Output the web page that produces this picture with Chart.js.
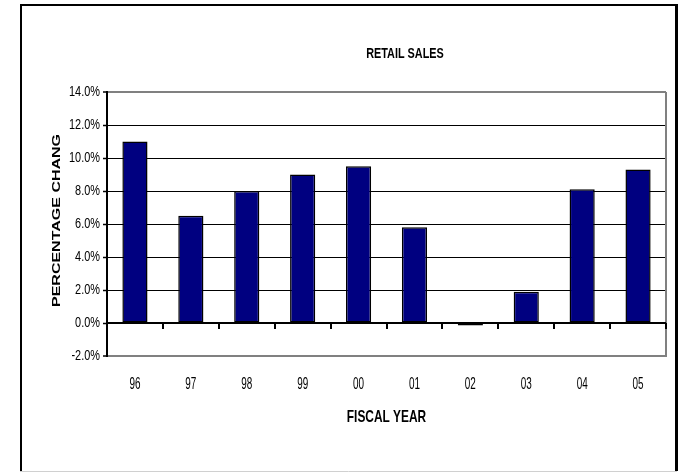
<!DOCTYPE html>
<html>
<head>
<meta charset="utf-8">
<script src="https://cdn.jsdelivr.net/npm/chart.js@4.4.1/dist/chart.umd.min.js"></script>
<style>
html,body{margin:0;padding:0;background:#fff;}
#wrap{width:679px;height:472px;position:relative;}
</style>
</head>
<body>
<div id="wrap"><canvas id="c" width="679" height="472"></canvas></div>
<script>
const chartTitle = 'RETAIL SALES';
const xTitle = 'FISCAL YEAR';
const yTitle = 'PERCENTAGE CHANGE';
const categories = ['96','97','98','99','00','01','02','03','04','05'];
const retailSales = [11.0, 6.5, 8.0, 9.0, 9.5, 5.8, -0.15, 1.9, 8.1, 9.3];
const yTickValues = [-2, 0, 2, 4, 6, 8, 10, 12, 14];
const yTickLabels = ['-2.0%','0.0%','2.0%','4.0%','6.0%','8.0%','10.0%','12.0%','14.0%'];

const SQUEEZE = 0.7;
const FONT = '"Liberation Sans", Arial, sans-serif';

function squeezedText(ctx, text, x, y, size, bold, align, sx) {
  ctx.save();
  ctx.font = (bold ? 'bold ' : '') + size + 'px ' + FONT;
  ctx.fillStyle = '#000';
  ctx.textBaseline = 'middle';
  ctx.textAlign = align;
  ctx.translate(x, y);
  ctx.scale(sx, 1);
  ctx.fillText(text, 0, 0);
  ctx.restore();
}

const decor = {
  id: 'decor',
  beforeDraw(chart) {
    const ctx = chart.ctx;
    ctx.save();
    ctx.fillStyle = '#fff';
    ctx.fillRect(0, 0, chart.width, chart.height);
    // outer frame
    ctx.strokeStyle = '#d0d0d0';
    ctx.lineWidth = 1;
    ctx.beginPath(); ctx.moveTo(20, 471.5); ctx.lineTo(677, 471.5); ctx.stroke();
    ctx.strokeStyle = '#000';
    ctx.lineWidth = 2;
    ctx.beginPath();
    ctx.moveTo(21, 471); ctx.lineTo(21, 5); ctx.lineTo(676.5, 5); ctx.stroke();
    ctx.lineWidth = 3;
    ctx.beginPath(); ctx.moveTo(676.5, 4); ctx.lineTo(676.5, 471); ctx.stroke();
    ctx.restore();
  },
  afterDraw(chart) {
    const ctx = chart.ctx;
    const area = chart.chartArea;
    const xs = chart.scales.x, ys = chart.scales.y;
    // right grey border
    ctx.save();
    ctx.strokeStyle = '#808080';
    ctx.lineWidth = 2;
    ctx.beginPath(); ctx.moveTo(area.right, area.top); ctx.lineTo(area.right, area.bottom); ctx.stroke();
    // zero axis line and category boundary ticks
    const y0 = ys.getPixelForValue(0);
    ctx.strokeStyle = '#000';
    ctx.lineWidth = 2;
    ctx.beginPath(); ctx.moveTo(area.left, y0); ctx.lineTo(area.right, y0); ctx.stroke();
    ctx.beginPath();
    for (let i = 1; i <= categories.length; i++) {
      const xb = i < categories.length
        ? (xs.getPixelForValue(i - 1) + xs.getPixelForValue(i)) / 2
        : area.right;
      ctx.moveTo(Math.round(xb), y0);
      ctx.lineTo(Math.round(xb), y0 + 6);
    }
    ctx.stroke();
    // left axis line
    ctx.beginPath(); ctx.moveTo(area.left, area.top - 1); ctx.lineTo(area.left, area.bottom + 1); ctx.stroke();
    ctx.restore();

    // y tick labels
    yTickValues.forEach((v, i) => {
      squeezedText(ctx, yTickLabels[i], area.left - 7, ys.getPixelForValue(v), 14, false, 'right', 0.78);
    });
    // x tick labels
    categories.forEach((c, i) => {
      squeezedText(ctx, c, xs.getPixelForValue(i), area.bottom + 29, 16, false, 'center', 0.62);
    });
    // titles
    squeezedText(ctx, chartTitle, 405, 54, 15.5, true, 'center', SQUEEZE);
    squeezedText(ctx, xTitle, (area.left + area.right) / 2, 417, 17, true, 'center', SQUEEZE);
    // rotated y title, clipped at top like the original
    ctx.save();
    ctx.beginPath();
    ctx.rect(0, 135, 100, 300);
    ctx.clip();
    ctx.font = 'bold 16px ' + FONT;
    ctx.fillStyle = '#000';
    ctx.textBaseline = 'middle';
    ctx.textAlign = 'left';
    ctx.translate(57, 307);
    ctx.scale(SQUEEZE, 1);
    ctx.rotate(-Math.PI / 2);
    ctx.fillText(yTitle, 0, 0);
    ctx.restore();
  }
};

new Chart(document.getElementById('c'), {
  type: 'bar',
  data: {
    labels: categories,
    datasets: [{
      label: chartTitle,
      data: retailSales,
      backgroundColor: '#000080',
      borderColor: '#000',
      borderWidth: 1.5,
      borderSkipped: false,
      categoryPercentage: 1,
      barPercentage: 0.45
    }]
  },
  options: {
    responsive: false,
    animation: false,
    devicePixelRatio: 1,
    layout: { padding: { top: 92, right: 13, left: 0, bottom: 0 } },
    plugins: { legend: { display: false }, title: { display: false }, tooltip: { enabled: false } },
    scales: {
      x: {
        grid: { display: false, drawTicks: false },
        border: { display: true, color: '#808080', width: 2 },
        ticks: { display: false },
        afterFit(scale) { scale.height = 116; }
      },
      y: {
        min: yTickValues[0],
        max: yTickValues[yTickValues.length - 1],
        afterBuildTicks(scale) { scale.ticks = yTickValues.map(v => ({ value: v })); },
        grid: {
          color: ctx => (ctx.tick && (ctx.tick.value === 14 || ctx.tick.value === -2)) ? '#808080' : '#000',
          lineWidth: ctx => (ctx.tick && (ctx.tick.value === 14 || ctx.tick.value === -2)) ? 2 : 1,
          tickColor: '#000',
          tickLength: 4,
          tickWidth: 1.5
        },
        border: { display: true, color: '#000', width: 2 },
        ticks: { display: false },
        afterFit(scale) { scale.width = 107; }
      }
    }
  },
  plugins: [decor]
});
</script>
</body>
</html>
